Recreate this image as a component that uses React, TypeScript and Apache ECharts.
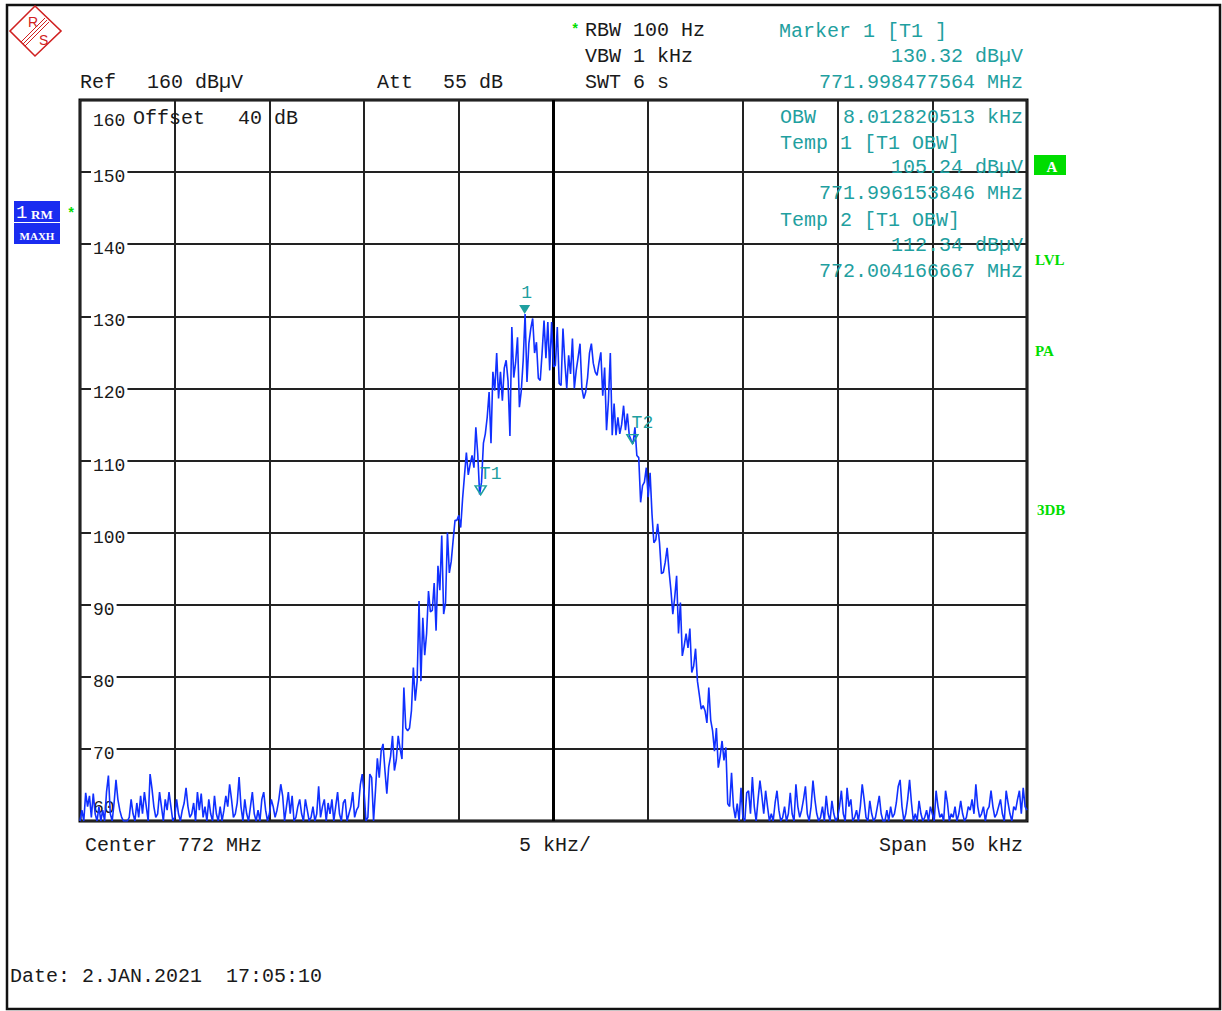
import React, { useEffect, useRef } from "react";
import * as echarts from "echarts";

// ---- data ----
const spanStartKHz = -25; // offset from center 772 MHz
const spanStepKHz = 0.1;
const levelMinDb = 60;
const levelMaxDb = 160;
const levelStepDb = 10;
const freqStepKHz = 5;
const levelTickLabels = [150, 140, 130, 120, 110, 100, 90, 80, 70];

// trace levels (dBµV), 501 sweep points, left to right
const traceLevelsDb = [
  60, 61.5, 60, 63.9, 62, 63.5, 60.5, 63.8, 61, 60, 62, 60, 61.5, 60, 64, 66.3, 61, 60, 62.5, 65.7, 63, 61.5, 60.5, 60, 60,
  60, 60.5, 63, 61, 60, 62.5, 60.5, 63.5, 61, 64, 62, 60, 66.5, 64.5, 62, 60.5, 61, 64, 62, 60, 63, 61.5, 64, 62, 60,
  60.5, 63, 61, 60, 61.5, 62.5, 64.6, 62, 60.5, 61, 62.5, 60, 64, 61.5, 63.8, 60.5, 62, 60, 63, 61, 60, 63.5, 61, 60, 62,
  60, 61.5, 63.5, 62, 65.1, 63, 60.5, 61, 62.5, 66.1, 62, 60, 63, 61, 60, 62, 64, 61, 60, 61.5, 60, 63, 64, 61.5, 60,
  61, 63, 62, 60.5, 61.5, 63, 65.1, 63.5, 60, 62, 64, 61, 63.5, 60, 60.5, 62, 63, 61, 60, 63, 61.5, 60, 60.5, 62, 60,
  61, 64.8, 60.5, 62, 63, 60, 62.5, 61, 63, 60, 62, 64, 61, 60, 62.5, 63, 60, 61, 62, 64, 60.5, 61.5, 62, 65, 66.5,
  64, 60, 60.5, 66.5, 66, 60, 64.2, 68.7, 66, 69.7, 70.7, 67, 63.8, 67.5, 69, 71.8, 67, 68.5, 71.8, 70, 68.6, 78.5, 72.9, 72.5, 72.9,
  75.3, 81.3, 76.7, 79.4, 90.5, 79.4, 88.2, 83, 86, 91.9, 89, 89.2, 93, 86.4, 95.4, 92, 99.6, 88.7, 90.3, 100, 94.4, 96, 98.9, 101.7, 101.7,
  102.4, 100.7, 104.7, 107.9, 111.1, 108, 109.5, 110.7, 109, 114.6, 110.9, 105.3, 107, 112.4, 113.7, 116, 119.5, 112.4, 122.3, 119.7, 124.9, 118.6, 122.3, 118.3, 122.8,
  123.9, 121, 113.4, 128.5, 121.5, 123.6, 127.1, 117.4, 119.7, 123.9, 130.32, 120.9, 126.2, 128.3, 129.7, 124.9, 126.4, 121.4, 121.1, 125, 129.4, 124.2, 129.2, 122.5, 129.2,
  123, 123.2, 128.5, 120.7, 120.4, 128.3, 123.6, 120, 124.6, 122, 126.9, 120, 122.5, 124.3, 126.2, 120, 118.6, 119.5, 121.5, 124.9, 126.2, 123.5, 122.3, 121.8, 123.5,
  125, 119, 122.9, 114.2, 118.3, 124.9, 113.5, 117.9, 113.5, 116, 113.7, 115, 117.6, 114.2, 116.5, 113.5, 112.8, 112.34, 114.6, 110.7, 110.4, 104.2, 106.5, 107, 109,
  104.9, 108.3, 102.6, 98.6, 99, 101.2, 98.5, 94.3, 94.5, 95.9, 97.9, 94.7, 92, 88.7, 91, 94, 86, 90.3, 82.9, 84.3, 86, 84, 86.7, 80.6, 81.5,
  83.9, 79.4, 77.5, 75.5, 76, 75.3, 73.6, 78.5, 74, 72.5, 69.7, 72.9, 67.4, 69, 71.1, 68.4, 70.2, 62.4, 62, 66.7, 62, 60.4, 62.4, 60, 64.6,
  60.5, 60, 63.9, 64.2, 61, 66.1, 62, 60, 63, 65.6, 63.5, 61, 64.2, 62, 60, 61, 60, 62.5, 64.2, 61.5, 60, 60.5, 62, 60, 61,
  63.9, 61, 60, 65.1, 62, 60.5, 61.5, 63, 64.8, 61, 60, 62, 65.6, 63, 61, 60, 60.5, 62, 60, 63.5, 61, 60, 62.8, 61, 60,
  60.5, 62, 64.2, 61, 60, 64.6, 62, 63, 60, 60.5, 61.5, 60, 62, 65.1, 63, 60.5, 60, 62.8, 61, 60, 60.5, 62, 63.5, 61, 60,
  60, 61.5, 60, 62, 60.5, 61, 62.5, 64.8, 65.7, 62, 60, 61, 63, 65.7, 62.5, 60, 61, 60, 62.8, 61, 60, 60.5, 61.5, 60, 62,
  61, 60, 64.2, 62, 60.5, 61, 60, 64.2, 62.5, 60, 61, 60.5, 62, 60, 61, 62.8, 61, 60, 60.5, 62, 61.5, 63, 61, 65.1, 62,
  60.5, 61, 62, 60, 61.5, 62, 64.2, 62, 60.5, 61, 62, 63, 61, 60, 64.2, 62.5, 61, 60, 62, 61.5, 63, 64.2, 61, 64.6, 62,
  61.5,
];

const markerNames = ["1", "T1", "T2"];
const markerOffsetsKHz = [-1.522436, -3.846154, 4.166667];
const markerLevelsDb = [130.32, 105.24, 112.34];
const markerFilled = [true, false, false];

const headerLeft = ["Ref", "160 dBµV", "Att", "55 dB"];
const settingLines = ["RBW 100 Hz", "VBW 1 kHz", "SWT 6 s"];
const markerInfo = ["Marker 1 [T1 ]", "130.32 dBµV", "771.998477564 MHz"];
const obwInfo = [
  "8.012820513 kHz",
  "Temp 1 [T1 OBW]",
  "105.24 dBµV",
  "771.996153846 MHz",
  "Temp 2 [T1 OBW]",
  "112.34 dBµV",
  "772.004166667 MHz",
];
const footer = ["Center", "772 MHz", "5 kHz/", "Span  50 kHz", "Date: 2.JAN.2021  17:05:10"];

// ---- styles ----
const MONO = '"Liberation Mono", "DejaVu Sans Mono", monospace';
const SERIF = '"Liberation Serif", serif';
const BLACK = "#1a1a1a";
const TEAL = "#1fa0a0";
const GREEN = "#00dd00";
const TRACE = "#1030ff";
const BOXBLUE = "#1a2cf0";
const RED = "#d02020";

function txt(
  text: string,
  x: number,
  y: number,
  opts: { fill?: string; size?: number; align?: string; weight?: string; family?: string; z?: number; bg?: string } = {}
) {
  const style: any = {
    text,
    fill: opts.fill ?? BLACK,
    fontSize: opts.size ?? 20,
    fontFamily: opts.family ?? MONO,
    fontWeight: opts.weight ?? "normal",
    align: opts.align ?? "left",
    verticalAlign: "middle",
  };
  if (opts.bg) {
    style.backgroundColor = opts.bg;
    style.padding = [1, 2, 1, 2];
  }
  return { type: "text", x, y, z: opts.z ?? 100, silent: true, style };
}

export default function App() {
  const ref = useRef<HTMLDivElement>(null);

  useEffect(() => {
    if (!ref.current) return;
    const chart = echarts.init(ref.current, null, { renderer: "svg" });

    const traceData = traceLevelsDb.map((v, i) => [
      +(spanStartKHz + i * spanStepKHz).toFixed(2),
      v,
    ]);

    const markData = markerNames.map((name, i) => ({
      name,
      coord: [markerOffsetsKHz[i], markerLevelsDb[i]],
      symbol: "path://M0 0L10 0L5 8Z",
      symbolSize: [11, 9],
      symbolOffset: [0, -4.5],
      itemStyle: markerFilled[i]
        ? { color: TEAL }
        : { color: "rgba(255,255,255,0)", borderColor: TEAL, borderWidth: 1.5 },
      label: {
        show: true,
        formatter: name,
        position: "top",
        distance: markerFilled[i] ? 3 : 4,
        offset: markerFilled[i] ? [2, 0] : [10, 2],
        color: TEAL,
        fontFamily: MONO,
        fontSize: 18,
      },
    }));

    const graphics: any[] = [
      {
        type: "rect",
        z: 90,
        silent: true,
        shape: { x: 7, y: 5, width: 1213, height: 1004 },
        style: { fill: "none", stroke: "#111", lineWidth: 2.5 },
      },
      {
        type: "polygon",
        z: 100,
        silent: true,
        shape: { points: [[10, 31], [35, 6], [61, 31], [35, 56]] },
        style: { fill: "none", stroke: RED, lineWidth: 1.6 },
      },
      { type: "line", z: 100, silent: true, shape: { x1: 21, y1: 42, x2: 45, y2: 18 }, style: { stroke: RED, lineWidth: 1 } },
      { type: "line", z: 100, silent: true, shape: { x1: 23, y1: 44, x2: 47, y2: 20 }, style: { stroke: RED, lineWidth: 1 } },
      { type: "line", z: 100, silent: true, shape: { x1: 25, y1: 46, x2: 49, y2: 22 }, style: { stroke: RED, lineWidth: 1 } },
      txt("R", 28, 22, { fill: RED, size: 14, family: '"Liberation Sans", sans-serif' }),
      txt("S", 39, 40, { fill: RED, size: 14, family: '"Liberation Sans", sans-serif' }),

      txt(headerLeft[0], 80, 82),
      txt(headerLeft[1], 147, 82),
      txt(headerLeft[2], 377, 82),
      txt(headerLeft[3], 443, 82),
      txt("*", 571, 30, { fill: GREEN, size: 14, weight: "bold" }),
      txt(settingLines[0], 585, 30),
      txt(settingLines[1], 585, 56),
      txt(settingLines[2], 585, 82),
      txt(markerInfo[0], 779, 31, { fill: TEAL }),
      txt(markerInfo[1], 1023, 56, { fill: TEAL, align: "right" }),
      txt(markerInfo[2], 1023, 82, { fill: TEAL, align: "right" }),

      txt("160", 93, 121, { size: 18 }),
      txt("Offset", 133, 118),
      txt("40 dB", 238, 118),
      txt("60", 93, 808, { size: 18, z: 1 }),
      txt("OBW", 780, 117, { fill: TEAL }),
      txt(obwInfo[0], 1023, 117, { fill: TEAL, align: "right" }),
      txt(obwInfo[1], 780, 143, { fill: TEAL }),
      txt(obwInfo[2], 1023, 167, { fill: TEAL, align: "right" }),
      txt(obwInfo[3], 1023, 193, { fill: TEAL, align: "right" }),
      txt(obwInfo[4], 780, 220, { fill: TEAL }),
      txt(obwInfo[5], 1023, 245, { fill: TEAL, align: "right" }),
      txt(obwInfo[6], 1023, 271, { fill: TEAL, align: "right" }),

      { type: "rect", z: 100, silent: true, shape: { x: 14, y: 201, width: 46, height: 21 }, style: { fill: BOXBLUE } },
      { type: "rect", z: 100, silent: true, shape: { x: 14, y: 223, width: 46, height: 21 }, style: { fill: BOXBLUE } },
      txt("1", 16, 213, { fill: "#fff", size: 19, z: 101 }),
      txt("RM", 31, 214, { fill: "#fff", size: 13, weight: "bold", family: SERIF, z: 101 }),
      txt("MAXH", 37, 236, { fill: "#fff", size: 11, weight: "bold", family: SERIF, align: "center", z: 101 }),
      txt("*", 67, 214, { fill: GREEN, size: 14, weight: "bold" }),

      { type: "rect", z: 100, silent: true, shape: { x: 1034, y: 155, width: 32, height: 20 }, style: { fill: GREEN } },
      txt("A", 1052, 167, { fill: "#fff", size: 15, weight: "bold", family: SERIF, align: "center", z: 101 }),
      txt("LVL", 1035, 260, { fill: GREEN, size: 15, weight: "bold", family: SERIF }),
      txt("PA", 1035, 351, { fill: GREEN, size: 15, weight: "bold", family: SERIF }),
      txt("3DB", 1037, 510, { fill: GREEN, size: 15, weight: "bold", family: SERIF }),

      txt(footer[0], 85, 845),
      txt(footer[1], 178, 845),
      txt(footer[2], 519, 845),
      txt(footer[3], 1023, 845, { align: "right" }),
      txt(footer[4], 10, 976),
    ];

    chart.setOption({
      animation: false,
      backgroundColor: "#fff",
      grid: {
        left: 80,
        top: 100,
        width: 947,
        height: 721,
        show: true,
        borderColor: "#000",
        borderWidth: 3,
        backgroundColor: "rgba(0,0,0,0)",
      },
      xAxis: {
        type: "value",
        min: spanStartKHz,
        max: -spanStartKHz,
        interval: freqStepKHz,
        axisLine: { show: false },
        axisTick: { show: false },
        axisLabel: { show: false },
        splitLine: { show: true, lineStyle: { color: "#222", width: 2 } },
      },
      yAxis: {
        type: "value",
        min: levelMinDb,
        max: levelMaxDb,
        interval: levelStepDb,
        axisLine: { show: false },
        axisTick: { show: false },
        axisLabel: { show: false },
        splitLine: { show: true, lineStyle: { color: "#222", width: 2 } },
      },
      graphic: graphics,
      series: [
        {
          type: "line",
          data: traceData,
          showSymbol: false,
          clip: true,
          z: 3,
          lineStyle: { color: TRACE, width: 1.6 },
          itemStyle: { color: TRACE },
          markLine: {
            silent: true,
            symbol: ["none", "none"],
            label: { show: false },
            lineStyle: { color: "#000", width: 3, type: "solid" },
            data: [{ xAxis: 0 }],
            z: 2,
          },
          markPoint: {
            silent: true,
            data: markData,
          },
        },
      ],
    });

    // level tick labels placed through the y axis scale
    const tickGraphics = levelTickLabels.map((v) => {
      const py = chart.convertToPixel({ yAxisIndex: 0 }, v) as number;
      return txt(String(v), 91, py + 5, { size: 18, bg: "#fff", z: 50 });
    });
    chart.setOption({ graphic: [...graphics, ...tickGraphics] });

    return () => chart.dispose();
  }, []);

  return (
    <div
      ref={ref}
      style={{ position: "fixed", left: 0, top: 0, width: 1222, height: 1011, background: "#fff" }}
    />
  );
}
